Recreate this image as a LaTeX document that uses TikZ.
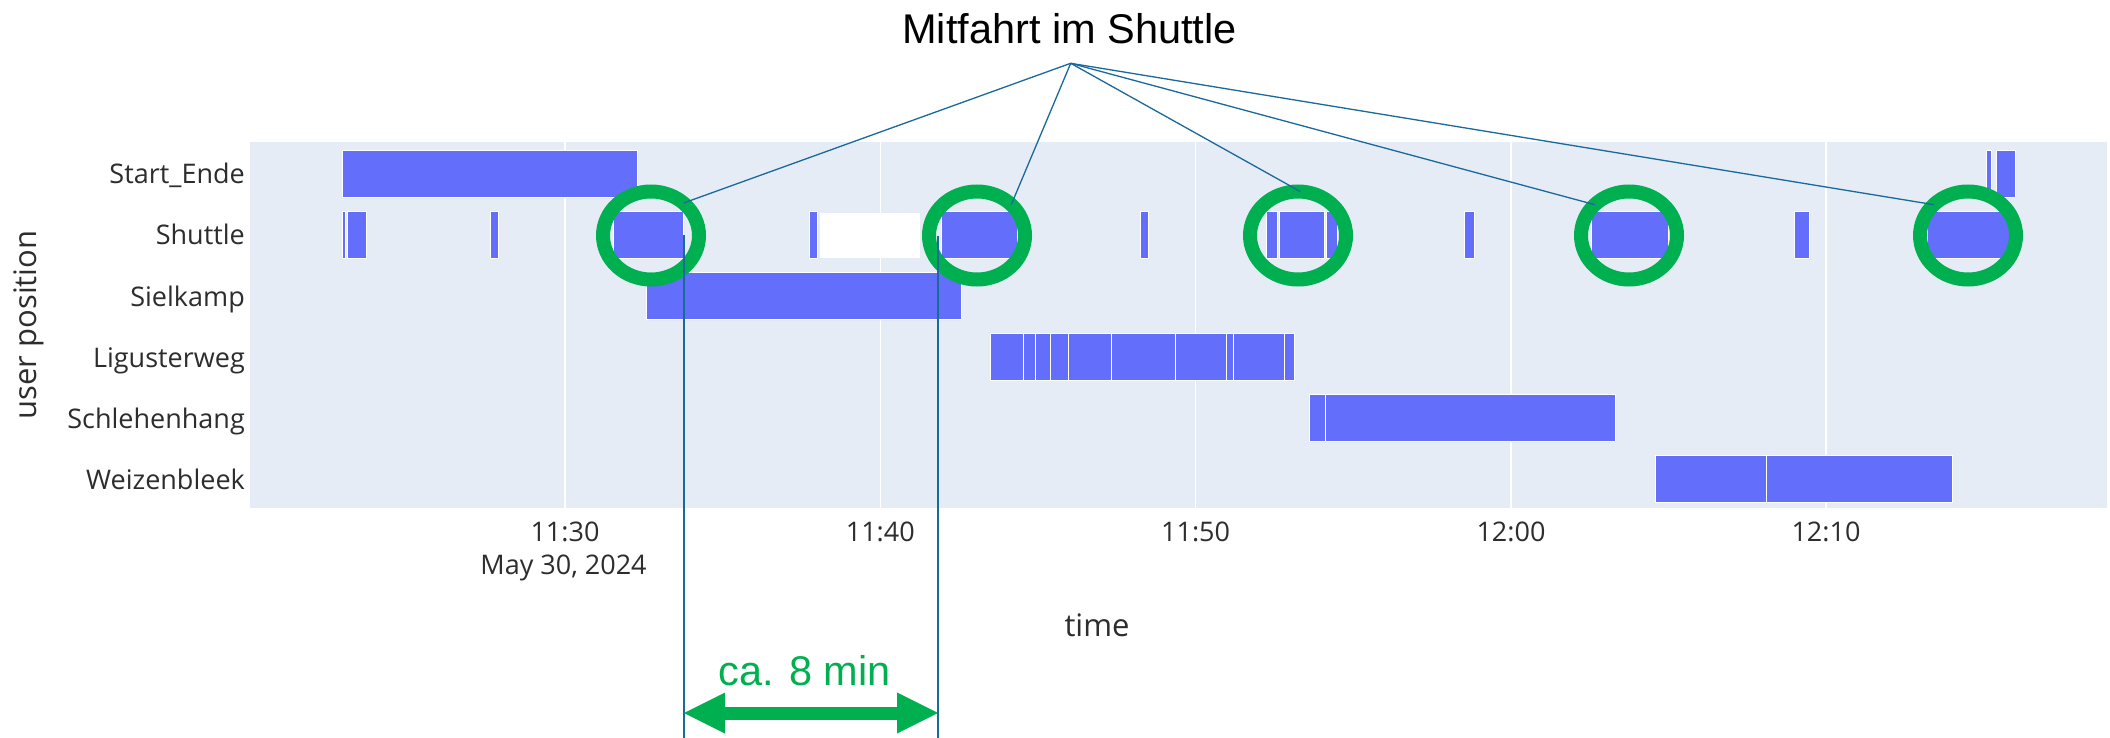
\documentclass[tikz,border=0pt]{standalone}
\usepackage{fontspec}
\setmainfont{Liberation Sans}
\newfontfamily\plotfont{Open Sans}
\usetikzlibrary{arrows.meta,shapes.geometric}
\definecolor{barblue}{RGB}{99,110,250}
\definecolor{plotbg}{RGB}{229,236,246}
\definecolor{mygreen}{RGB}{0,176,80}
\definecolor{leader}{RGB}{25,105,155}
\definecolor{axtxt}{RGB}{45,45,45}
\newcommand\tbar[3]{\filldraw[fill=barblue,draw=white,line width=0.7pt] (#2,{150+61*#1}) rectangle (#3,{197+61*#1});}
\begin{document}
\begin{tikzpicture}[x=1pt,y=-1pt,
  ylab/.style={anchor=base east,text=axtxt,font=\plotfont\fontsize{27}{32}\selectfont,inner sep=0pt},
  tlab/.style={anchor=base,text=axtxt,font=\plotfont\fontsize{27}{32}\selectfont,inner sep=0pt},
  atitle/.style={text=axtxt,font=\plotfont\fontsize{31}{37}\selectfont,inner sep=0pt},
  ring/.style={ellipse,draw=mygreen,line width=14pt,minimum width=96pt,minimum height=88pt,inner sep=0pt,outer sep=0pt},
  lead/.style={draw=leader,line width=1.3pt},
  big/.style={font=\fontsize{41.5}{50}\selectfont,inner sep=0pt}]
\useasboundingbox (0,0) rectangle (2110,738);
\fill[white] (0,0) rectangle (2110,738);
% plot area
\fill[plotbg] (250,142.5) rectangle (2107,507.5);
\foreach \x in {565,880.3,1195.6,1511,1826} \draw[white,line width=1.5pt] (\x,142.5) -- (\x,507.5);
% bars: Start_Ende
\tbar{0}{342}{637.5}\tbar{0}{1986}{1991.5}\tbar{0}{1996}{2015}
% Shuttle
\tbar{1}{342}{345}\tbar{1}{347}{366.5}\tbar{1}{490}{498}\tbar{1}{613}{683.5}
\tbar{1}{809}{817}\tbar{1}{941.5}{1017}\tbar{1}{1140.5}{1148}
\tbar{1}{1266.5}{1277.5}\tbar{1}{1279}{1324}\tbar{1}{1326}{1337}
\tbar{1}{1464}{1474}\tbar{1}{1591.5}{1668}\tbar{1}{1794.5}{1809.5}\tbar{1}{1927.5}{2010}
% Sielkamp
\tbar{2}{646}{961.5}
% Ligusterweg
\tbar{3}{990.5}{1023}\tbar{3}{1023}{1035}\tbar{3}{1035}{1050}\tbar{3}{1050}{1068}
\tbar{3}{1068}{1111}\tbar{3}{1111}{1175}\tbar{3}{1175}{1226}\tbar{3}{1226}{1233}
\tbar{3}{1233}{1284}\tbar{3}{1284}{1294}
% Schlehenhang
\tbar{4}{1309}{1325.5}\tbar{4}{1325.5}{1615}
% Weizenbleek
\tbar{5}{1655}{1766.5}\tbar{5}{1766.5}{1952}
% white cover
\fill[white] (820,213) rectangle (920,258);
% y labels
\node[ylab] (l0) at (245,184) {Start\_Ende};
\node[ylab] (l1) at (245,245) {Shuttle};
\node[ylab] (l2) at (245,306) {Sielkamp};
\node[ylab] (l3) at (245,367) {Ligusterweg};
\node[ylab] (l4) at (245,428) {Schlehenhang};
\node[ylab] (l5) at (245,489) {Weizenbleek};
% x tick labels
\node[tlab] (t1) at (565,541.5) {11:30};
\node[tlab] (t2) at (880.3,541.5) {11:40};
\node[tlab] (t3) at (1195.6,541.5) {11:50};
\node[tlab] (t4) at (1511,541.5) {12:00};
\node[tlab] (t5) at (1826,541.5) {12:10};
\node[tlab] (date) at (563.5,574) {May 30, 2024};
\node[atitle,anchor=base] (xt) at (1097,636) {time};
\node[atitle,rotate=90] (yt) at (29,325) {user position};
% annotation
\node[big,anchor=base] (title) at (1069.5,43.3) {Mitfahrt im Shuttle};
\coordinate (apex) at (1070.7,63.3);
\node[ring] (e1) at (651,235.5) {};
\node[ring] (e2) at (977,235.5) {};
\node[ring] (e3) at (1298,235.5) {};
\node[ring] (e4) at (1629,235.5) {};
\node[ring] (e5) at (1968,235.5) {};
\draw[lead] (apex) -- (e1.45);
\draw[lead] (apex) -- (e2.42);
\draw[lead] (apex) -- (e3.87);
\draw[lead] (apex) -- (e4.138);
\draw[lead] (apex) -- (e5.138);
\coordinate (v1t) at (684,235);
\coordinate (v1b) at (684,738);
\coordinate (v2t) at (938,236);
\coordinate (v2b) at (938,738);
\draw[lead] (v1t) -- (v1b);
\draw[lead] (v2t) -- (v2b);
\coordinate (aL) at (684,713);
\coordinate (aR) at (938,713);
\draw[mygreen,line width=13pt,{Triangle[length=41pt,width=41pt,line width=0pt]}-{Triangle[length=41pt,width=41pt,line width=0pt]}] (aL) -- (aR);
\node[big,anchor=base,text=mygreen] (dur) at (804.5,685) {ca. 8 min};
\end{tikzpicture}
\end{document}
